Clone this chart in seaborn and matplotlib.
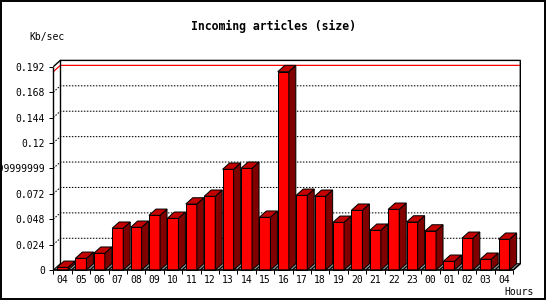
import numpy as np
import pandas as pd
import matplotlib
matplotlib.use("Agg")
import matplotlib.pyplot as plt
from matplotlib.patches import Polygon, Rectangle
import seaborn as sns

# ---- data ----
hours = ["04", "05", "06", "07", "08", "09", "10", "11", "12", "13", "14", "15", "16",
         "17", "18", "19", "20", "21", "22", "23", "00", "01", "02", "03", "04"]
kb_per_sec = [0.0025, 0.0110, 0.0158, 0.0394, 0.0403, 0.0516, 0.0488, 0.0623, 0.0696,
              0.0951, 0.0960, 0.0498, 0.1873, 0.0705, 0.0696, 0.0450, 0.0564, 0.0375,
              0.0573, 0.0453, 0.0368, 0.0082, 0.0299, 0.0101, 0.0290]
ytick_values = [0, 0.024, 0.048, 0.072, 0.096, 0.12, 0.144, 0.168, 0.192]
ytick_labels = ["0", "0.024", "0.048", "0.072", "0.09599999999999999", "0.12", "0.144", "0.168", "0.192"]
title = "Incoming articles (size)"
ylabel = "Kb/sec"
xlabel = "Hours"

sns.set_theme(style="white")
plt.rcParams["font.family"] = ["DejaVu Sans Mono", "DejaVu Sans"]
plt.rcParams["text.color"] = "black"
plt.rcParams["axes.labelcolor"] = "black"
plt.rcParams["xtick.color"] = "black"
plt.rcParams["ytick.color"] = "black"

W, H = 550, 300
fig = plt.figure(figsize=(5.5, 3), dpi=100)
fig.patch.set_facecolor("white")

# geometry in pixels
left_px, bottom_px = 53.3, 270.0
slot_px = 18.4
n = len(kb_per_sec)
front_w = n * slot_px
ymax = ytick_values[-1]
front_h = 203.3
DX, DY = 7.0, 6.3

ax = fig.add_axes([left_px / W, (H - bottom_px) / H, (front_w + DX) / W, (front_h + DY) / H])
ddx = DX / slot_px
ddy = DY * ymax / front_h
xr = n - 0.5

df = pd.DataFrame({"idx": np.arange(n), "val": kb_per_sec})

# floor
for i in range(n):
    ax.add_patch(Polygon([(i - 0.5, 0), (i + 0.5, 0), (i + 0.5 + ddx, ddy), (i - 0.5 + ddx, ddy)],
                         closed=True, facecolor="#8c8c8c", edgecolor="black", lw=0.7,
                         zorder=1, clip_on=False))

# gridlines on the back wall (with diagonal from front axis)
for v in ytick_values[1:-1]:
    ax.plot([-0.5, -0.5 + ddx, xr + ddx], [v, v + ddy, v + ddy], color="black", lw=0.75,
            linestyle=(0, (1.44, 1.44)), zorder=0.5, clip_on=False)

# max line (red)
vmax = max(kb_per_sec)
ax.plot([-0.5, -0.5 + ddx, xr + ddx], [vmax, vmax + ddy, vmax + ddy], color="red", lw=0.9,
        zorder=0.6, clip_on=False)

# front faces via seaborn
bw = 0.6
sns.barplot(data=df, x="idx", y="val", width=bw, color="#ff0000", saturation=1,
            edgecolor="black", linewidth=0.72, ax=ax, zorder=3)
for p in ax.patches:
    p.set_clip_on(False)

# side and top faces
for i, v in enumerate(kb_per_sec):
    x0, x1 = i - bw / 2, i + bw / 2
    ax.add_patch(Polygon([(x1, 0), (x1 + ddx, ddy), (x1 + ddx, v + ddy), (x1, v)], closed=True,
                         facecolor="#800000", edgecolor="black", lw=0.72, zorder=3, clip_on=False))
    ax.add_patch(Polygon([(x0, v), (x1, v), (x1 + ddx, v + ddy), (x0 + ddx, v + ddy)], closed=True,
                         facecolor="#c40000", edgecolor="black", lw=0.72, zorder=3, clip_on=False))

# frame lines
k = dict(color="black", lw=1.0, zorder=4, clip_on=False, solid_capstyle="butt")
ax.plot([-0.5, -0.5], [0, ymax], **k)
ax.plot([-0.5, -0.5 + ddx, xr + ddx, xr + ddx, xr, -0.5],
        [ymax, ymax + ddy, ymax + ddy, ddy, 0, 0], **k)
ax.plot([-0.5 + ddx, -0.5 + ddx], [ddy, ymax + ddy], color="black", lw=1.0, zorder=0.7, clip_on=False)

ax.set_xlim(-0.5, xr + ddx)
ax.set_ylim(0, ymax + ddy)
for s in ax.spines.values():
    s.set_visible(False)

ax.set_yticks(ytick_values)
ax.set_yticklabels(ytick_labels)
ax.set_xticks(np.arange(n))
ax.set_xticklabels(hours)
ax.set_xticks(np.arange(n + 1) - 0.5, minor=True)
ax.tick_params(axis="y", which="major", left=True, length=2.9, width=0.72, color="black",
               pad=2.9, labelsize=7, labelcolor="black")
ax.tick_params(axis="x", which="major", bottom=True, length=0, pad=3.5, labelsize=7, labelcolor="black")
ax.tick_params(axis="x", which="minor", bottom=True, length=2.9, width=0.72, color="black")
ax.set_xlabel("")
ax.set_ylabel("")

fig.text(273.7 / W, 1 - 26.7 / H, title, ha="center", va="center", fontsize=8.3,
         fontweight="bold", color="black")
fig.text(47.5 / W, 1 - 36.7 / H, ylabel, ha="center", va="center", fontsize=7, color="black")
fig.text(519 / W, 1 - 292 / H, xlabel, ha="center", va="center", fontsize=7, color="black")

fig.add_artist(Rectangle((1 / W, 1.5 / H), 544 / W, 297.5 / H, transform=fig.transFigure,
                         fill=False, edgecolor="black", lw=1.4, zorder=10))

fig.savefig("out.png", dpi=100)
